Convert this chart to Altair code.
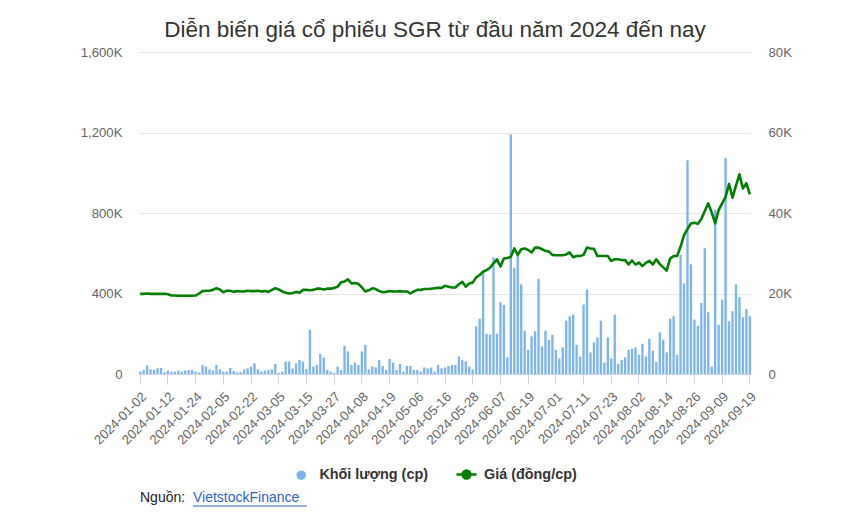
import altair as alt
import pandas as pd

# Trading calendar (HOSE), 2024-01-02 .. 2024-09-19
holidays = ["2024-01-01", "2024-02-08", "2024-02-09", "2024-02-12", "2024-02-13",
            "2024-02-14", "2024-04-18", "2024-04-29", "2024-04-30", "2024-05-01",
            "2024-09-02", "2024-09-03"]
dates = [d.strftime("%Y-%m-%d") for d in pd.bdate_range("2024-01-02", "2024-09-19")
         if d.strftime("%Y-%m-%d") not in holidays]

# Volume (thousand shares)
volume_k = [
    12, 20, 43, 23, 20, 28, 30, 8, 17, 12,
    12, 17, 12, 17, 20, 20, 12, 8, 45, 37,
    23, 17, 45, 23, 12, 12, 30, 15, 8, 10,
    23, 28, 37, 53, 23, 12, 17, 20, 23, 50,
    5, 12, 62, 62, 28, 53, 70, 62, 25, 220,
    37, 45, 100, 82, 20, 12, 5, 37, 20, 140,
    112, 45, 57, 45, 112, 145, 23, 37, 33, 70,
    40, 20, 75, 57, 20, 50, 12, 40, 40, 20,
    20, 12, 32, 28, 32, 12, 45, 28, 33, 40,
    45, 45, 87, 70, 63, 37, 23, 237, 275, 500,
    200, 195, 580, 200, 357, 343, 82, 1190, 528, 590,
    445, 215, 120, 187, 212, 473, 137, 215, 170, 195,
    120, 77, 132, 265, 287, 295, 145, 87, 345, 420,
    107, 157, 182, 265, 57, 182, 78, 295, 50, 70,
    82, 120, 125, 132, 95, 150, 87, 175, 115, 60,
    207, 170, 107, 275, 287, 95, 592, 450, 1062, 545,
    270, 240, 353, 625, 307, 37, 817, 245, 370, 1073,
    262, 312, 445, 382, 282, 323, 287,
]

# Price (VND per share)
price = [
    19900, 19900, 20000, 19900, 19950, 19900, 19900, 19950, 19800, 19500,
    19500, 19450, 19450, 19450, 19450, 19450, 19500, 20000, 20600, 20700,
    20700, 20900, 21300, 21000, 20300, 20700, 20700, 20400, 20600, 20500,
    20500, 20700, 20600, 20600, 20700, 20500, 20600, 20400, 20900, 21300,
    21000, 20500, 20200, 20000, 20100, 20400, 20200, 20900, 20900, 20800,
    20900, 21200, 21200, 21000, 21200, 21200, 21400, 21700, 22800, 23000,
    23500, 22500, 22600, 22400, 21500, 20500, 20800, 21300, 21100, 20600,
    20300, 20400, 20600, 20500, 20500, 20600, 20500, 20500, 20000, 20500,
    20900, 20900, 21100, 21100, 21200, 21300, 21400, 21400, 21900, 21700,
    21500, 21500, 22300, 22900, 21700, 22500, 22700, 24000, 24600, 25400,
    25800, 26400, 27500, 28500, 26700, 28700, 28800, 29100, 31200, 29600,
    31000, 31200, 30800, 30200, 31400, 31400, 31000, 30600, 30400, 29600,
    29500, 29500, 29500, 29700, 30200, 29000, 29300, 29300, 29600, 31400,
    31200, 31100, 29300, 29300, 29300, 29300, 28100, 28500, 28500, 28300,
    28300, 27200, 28200, 27200, 27700, 26800, 27600, 28100, 27200, 28500,
    27300, 26500, 25700, 28700, 29300, 29300, 31600, 34500, 36000, 37400,
    37600, 37300, 38500, 40500, 42400, 40100, 37400, 40700, 42400, 44000,
    47200, 43800, 46800, 49600, 46100, 47400, 44600,
]

tick_dates = dates[::8]
vol_name = "Khối lượng (cp)"
price_name = "Giá (đồng/cp)"

df = pd.DataFrame({"date": dates, "vol": volume_k, "price": price})
df["s_vol"] = vol_name
df["s_price"] = price_name

FONT = "Liberation Sans"
W, H = 612, 322

x_enc = alt.X(
    "date:O",
    scale=alt.Scale(paddingInner=0.32, paddingOuter=0.0),
    axis=alt.Axis(
        values=tick_dates, title=None, labelAngle=315, labelAlign="right",
        labelBaseline="top", labelFont=FONT, labelFontSize=13.2, labelColor="#666666",
        labelPadding=6, tickSize=10, tickColor="#ccd6eb", domainColor="#ccd6eb",
        grid=False, labelOverlap=False,
    ),
)

bars = alt.Chart(df).mark_bar().encode(
    x=x_enc,
    y=alt.Y(
        "vol:Q",
        scale=alt.Scale(domain=[0, 1600], nice=False),
        axis=alt.Axis(
            values=[0, 400, 800, 1200, 1600], title=None, orient="left",
            labelExpr="datum.value == 0 ? '0' : format(datum.value, ',') + 'K'",
            labelFont=FONT, labelFontSize=13.2, labelColor="#666666",
            ticks=False, tickSize=0, domain=False, labelPadding=17,
            grid=True, gridColor="#e6e6e6", gridWidth=1,
        ),
    ),
    color=alt.Color(
        "s_vol:N",
        scale=alt.Scale(domain=[vol_name], range=["#7cb5ec"]),
        legend=alt.Legend(
            title=None, orient="none", legendX=155, legendY=416,
            symbolType="circle", symbolSize=90, symbolStrokeWidth=0,
            labelFont=FONT, labelFontSize=14.4, labelFontWeight="bold",
            labelColor="#333333", labelOffset=11,
        ),
    ),
)

line = alt.Chart(df).mark_line(strokeWidth=2.6, strokeJoin="round").encode(
    x=alt.X("date:O", bandPosition=0.5),
    y=alt.Y(
        "price:Q",
        scale=alt.Scale(domain=[0, 80000], nice=False),
        axis=alt.Axis(
            values=[0, 20000, 40000, 60000, 80000], title=None, orient="right",
            labelExpr="datum.value == 0 ? '0' : format(datum.value / 1000, ',') + 'K'",
            labelFont=FONT, labelFontSize=13.2, labelColor="#666666",
            ticks=False, tickSize=0, domain=False, labelPadding=17, grid=False,
        ),
    ),
    color=alt.Color(
        "s_price:N",
        scale=alt.Scale(domain=[price_name], range=["#008000"]),
        legend=alt.Legend(
            title=None, orient="none", legendX=316, legendY=411,
            symbolType="M-1,0L1,0M-0.4,0A0.4,0.4,0,1,1,0.4,0A0.4,0.4,0,1,1,-0.4,0",
            symbolSize=400, symbolStrokeWidth=2.4, symbolFillColor="#008000",
            symbolStrokeColor="#008000",
            labelFont=FONT, labelFontSize=14.4, labelFontWeight="bold",
            labelColor="#333333", labelOffset=6,
        ),
    ),
)

src = pd.DataFrame({"t": ["Nguồn:"]})
src_link = pd.DataFrame({"t": ["VietstockFinance"]})

src_text = alt.Chart(src).mark_text(
    align="left", baseline="middle", font=FONT, fontSize=14, color="#222222"
).encode(text="t:N", x=alt.value(1), y=alt.value(446))

link_text = alt.Chart(src_link).mark_text(
    align="left", baseline="middle", font=FONT, fontSize=14, color="#2f64c4"
).encode(text="t:N", x=alt.value(54), y=alt.value(446))

underline = alt.Chart(src_link).mark_rule(color="#2f64c4", strokeWidth=1).encode(
    x=alt.value(54), x2=alt.value(168), y=alt.value(454)
)

chart = (
    alt.layer(bars, line, src_text, link_text, underline)
    .resolve_scale(y="independent", color="independent")
    .properties(
        width=W, height=H,
        background="white",
        title=alt.TitleParams(
            text="Diễn biến giá cổ phiếu SGR từ đầu năm 2024 đến nay",
            font=FONT, fontSize=22.5, fontWeight="normal", color="#333333",
            anchor="middle", dx=-10, offset=4,
        ),
        autosize=alt.AutoSizeParams(type="none"),
        padding={"left": 139, "top": 52, "right": 855 - 139 - W, "bottom": 521 - 52 - H},
    )
    .configure_view(strokeWidth=0, stroke="transparent")
)

chart.save("out.html", embed_options={"renderer": "svg", "actions": False})
